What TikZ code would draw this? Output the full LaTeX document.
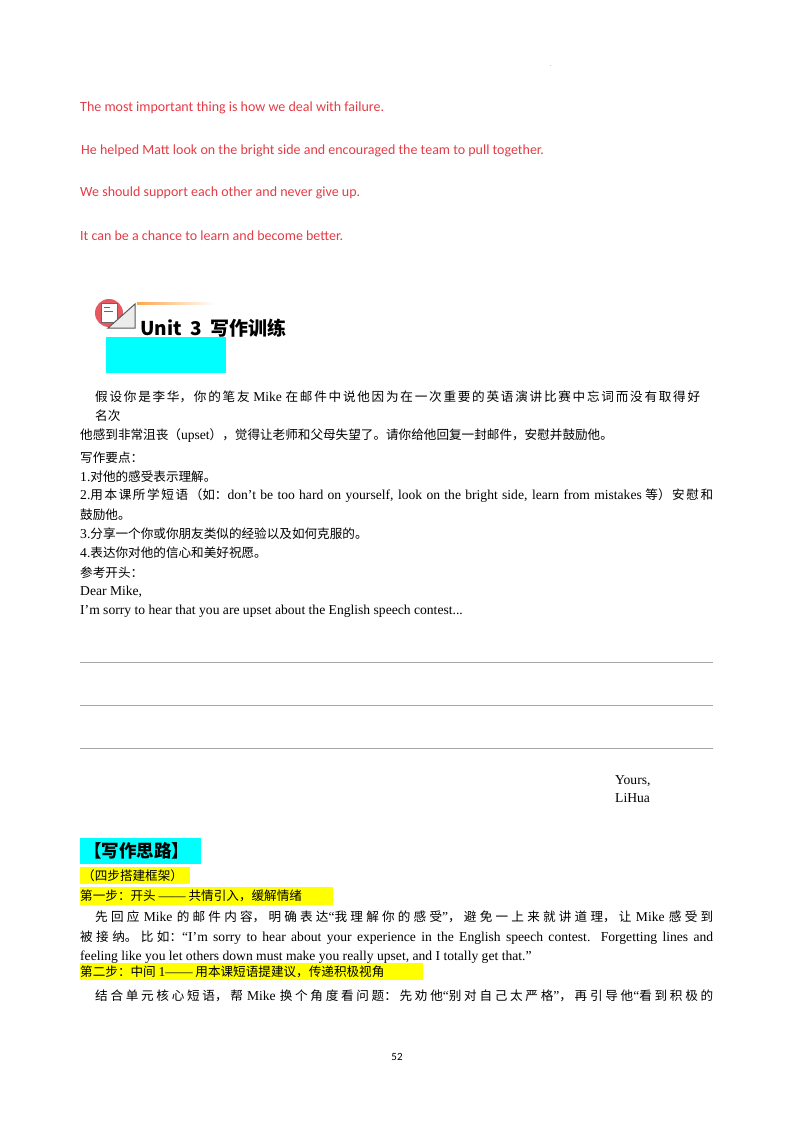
\documentclass[tikz,border=0pt]{standalone}
\usepackage{fontspec}
\setmainfont{Liberation Serif}
\newfontfamily\cjk{Noto Sans CJK SC}
\newfontfamily\redfont{Carlito}
\XeTeXlinebreaklocale "zh"
\XeTeXlinebreakskip=0pt plus 3pt
\usetikzlibrary{positioning}
\definecolor{redtxt}{RGB}{226,60,70}
\definecolor{cyanbox}{RGB}{0,255,255}
\definecolor{hiyellow}{RGB}{255,255,0}
\newcommand{\fillzero}{\parfillskip=0pt\relax}
\tikzset{redline/.style={anchor=west,inner sep=0,font=\redfont\fontsize{14}{15}\selectfont,text=redtxt},
    bodyline/.style={anchor=west,inner sep=0,font=\cjk\fontsize{12.6}{13}\selectfont},
    fullline/.style={bodyline,text width=#1,align=justify,execute at begin node=\fillzero},
    engline/.style={anchor=west,inner sep=0,font=\fontsize{13.6}{14}\selectfont},
    hilite/.style={fill=hiyellow,draw=none},
    answerrule/.style={draw=gray!70,line width=0.6pt}}
\newcommand{\en}[1]{{\rmfamily\fontsize{13.6}{14}\selectfont #1}}
\begin{document}
\begin{tikzpicture}[x=1pt,y=-1pt]
\useasboundingbox (0,0) rectangle (800,1132);

% model sentences
\node (dot) [inner sep=0,font=\tiny] at (551,66) {.};
\node (r 1) [redline] at (80,108) {The most important thing is how we deal with failure.};
\node (r 2) [redline] at (81,151) {He helped Matt look on the bright side and encouraged the team to pull together.};
\node (r 3) [redline] at (80,193) {We should support each other and never give up.};
\node (r 4) [redline] at (80,236) {It can be a chance to learn and become better.};

% unit heading
\shade[left color=orange!70,right color=white] (137,302.5) rectangle (215,304);
\fill[cyanbox] (106,337) rectangle (226,373);
\fill[redtxt!85] (109,313) circle (14);
\filldraw[fill=white,draw=gray!80!black] (101,303) rectangle (117,322);
\draw[gray!80!black,line width=1pt] (104,307) -- (110,307) (104,311) -- (113,311);
\filldraw[fill=gray!15,draw=gray!70!black,line width=1pt] (108,328) -- (135,304) -- (135,328) -- cycle;
\node (unit) [anchor=west,inner sep=0,font=\cjk\bfseries\fontsize{19}{21}\selectfont] at (140,328) {Unit\ \ 3\ \ 写作训练};

% task
\node (t 1) [fullline=605pt] at (95,397) {假设你是李华，你的笔友 \en{Mike} 在邮件中说他因为在一次重要的英语演讲比赛中忘词而没有取得好};
\node (t 2) [bodyline] at (95,416) {名次};
\node (t 3) [bodyline] at (80,436) {他感到非常沮丧（\en{upset}），觉得让老师和父母失望了。请你给他回复一封邮件，安慰并鼓励他。};
\node (t 4) [bodyline] at (80,458) {写作要点：};
\node (t 5) [bodyline] at (80,477) {\en{1.}对他的感受表示理解。};
\node (t 6) [fullline=633pt] at (80,496) {\en{2.}用本课所学短语（如：\en{don't be too hard on yourself, look on the bright side, learn from mistakes} 等）安慰和};
\node (t 7) [bodyline] at (80,515) {鼓励他。};
\node (t 8) [bodyline] at (80,534) {\en{3.}分享一个你或你朋友类似的经验以及如何克服的。};
\node (t 9) [bodyline] at (80,553) {\en{4.}表达你对他的信心和美好祝愿。};
\node (t 10) [bodyline] at (80,573) {参考开头：};
\node (t 11) [engline] at (80,592) {Dear Mike,};
\node (t 12) [engline] at (80,611) {I'm sorry to hear that you are upset about the English speech contest...};

% answer lines
\foreach \y in {662,705,748}
  \draw[answerrule] (80,\y) -- (713,\y);
\node (yours) [engline] at (615,781) {Yours,};
\node (lihua) [engline,below=7pt of yours.south west,anchor=north west] {LiHua};

% writing ideas
\fill[cyanbox] (80,838) rectangle (201,864);
\node (idea) [anchor=west,inner sep=0,font=\cjk\bfseries\fontsize{17.5}{19}\selectfont] at (84,851) {【写作思路】};
\fill[hilite] (80,867) rectangle (190,884);
\node (frame) [bodyline] at (82,875.5) {（四步搭建框架）};
\fill[hilite] (80,887) rectangle (333,905);
\node (s 1) [bodyline] at (80,896) {第一步：开头\ \en{——}\ 共情引入，缓解情绪};
\node (p 1) [fullline=618pt] at (95,917) {先回应 \en{Mike} 的邮件内容，明确表达\en{“}我理解你的感受\en{”}，避免一上来就讲道理，让 \en{Mike} 感受到};
\node (p 2) [fullline=633pt] at (80,938) {被接纳。比如：\en{“I'm sorry to hear about your experience in the English speech contest. Forgetting lines and}};
\fill[hilite] (80,963) rectangle (423,980);
\node (p 3) [engline] at (80,957) {feeling like you let others down must make you really upset, and I totally get that.”};
\node (s 2) [bodyline] at (80,971.5) {第二步：中间\ \en{1——}\ 用本课短语提建议，传递积极视角};
\node (p 4) [fullline=618pt] at (95,996) {结合单元核心短语，帮 \en{Mike} 换个角度看问题：先劝他\en{“}别对自己太严格\en{”}，再引导他\en{“}看到积极的};

\node (page) [inner sep=0,font=\redfont\fontsize{11}{12}\selectfont] at (397,1057) {52};
\end{tikzpicture}
\end{document}
